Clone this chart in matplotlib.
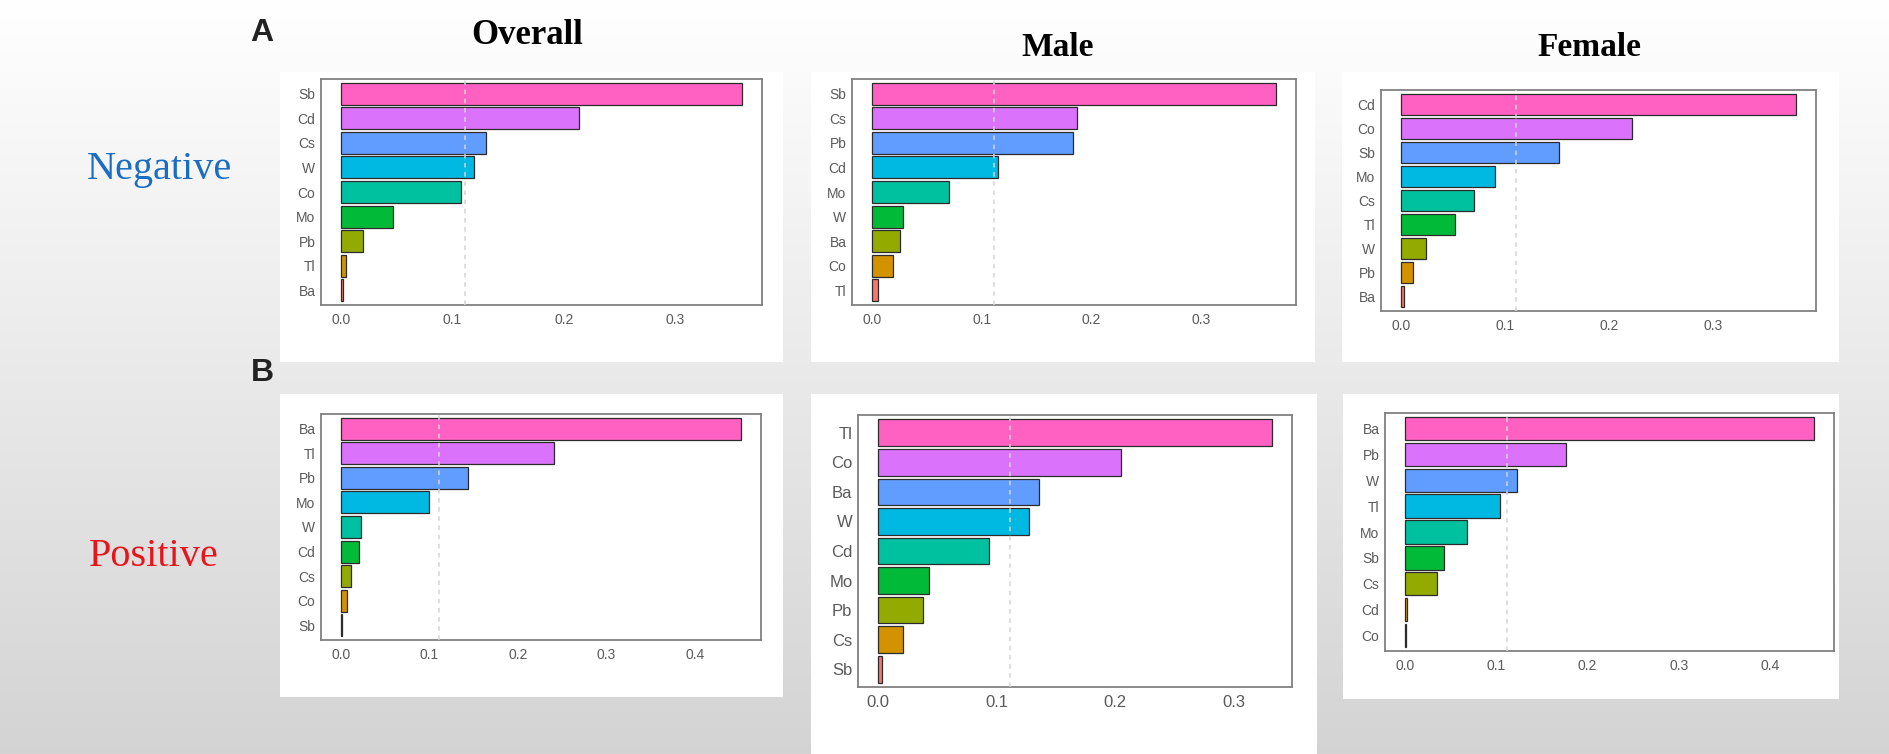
import numpy as np
import matplotlib
matplotlib.use('Agg')
import matplotlib.pyplot as plt
from matplotlib.patches import Rectangle

# weights, listed top bar first
neg_overall_labels = ["Sb", "Cd", "Cs", "W", "Co", "Mo", "Pb", "Tl", "Ba"]
neg_overall_vals = [0.360, 0.214, 0.130, 0.119, 0.108, 0.047, 0.020, 0.0045, 0.0015]

neg_male_labels = ["Sb", "Cs", "Pb", "Cd", "Mo", "W", "Ba", "Co", "Tl"]
neg_male_vals = [0.368, 0.187, 0.183, 0.115, 0.070, 0.028, 0.025, 0.0186, 0.0055]

neg_female_labels = ["Cd", "Co", "Sb", "Mo", "Cs", "Tl", "W", "Pb", "Ba"]
neg_female_vals = [0.380, 0.222, 0.152, 0.091, 0.070, 0.052, 0.024, 0.012, 0.003]

pos_overall_labels = ["Ba", "Tl", "Pb", "Mo", "W", "Cd", "Cs", "Co", "Sb"]
pos_overall_vals = [0.452, 0.241, 0.1435, 0.099, 0.0226, 0.020, 0.0117, 0.007, 0.001]

pos_male_labels = ["Tl", "Co", "Ba", "W", "Cd", "Mo", "Pb", "Cs", "Sb"]
pos_male_vals = [0.332, 0.205, 0.1355, 0.127, 0.094, 0.0435, 0.038, 0.021, 0.004]

pos_female_labels = ["Ba", "Pb", "W", "Tl", "Mo", "Sb", "Cs", "Cd", "Co"]
pos_female_vals = [0.448, 0.176, 0.122, 0.104, 0.068, 0.0426, 0.0344, 0.0015, 0.0005]

hue9 = ["#F8766D", "#D39200", "#93AA00", "#00BA38", "#00C19F",
        "#00B9E3", "#619CFF", "#DB72FB", "#FF61C3"]

W, H = 1890, 754
serif = ['Liberation Serif', 'DejaVu Serif']
sans = ['Liberation Sans', 'DejaVu Sans']


def rect(x0, y0, x1, y1):
    return [x0 / W, 1 - y1 / H, (x1 - x0) / W, (y1 - y0) / H]


def draw_panel(ax, labels, vals, fs):
    n = len(labels)
    y = np.arange(n, 0, -1)
    ax.barh(y, vals, height=0.9, color=hue9[::-1], edgecolor='#2b2b2b',
            linewidth=0.9, zorder=3)
    vmax = max(vals)
    ax.set_xlim(-0.05 * vmax, 1.05 * vmax)
    ax.set_ylim(0.4, n + 0.6)
    ax.axvline(1 / 9, color='#d4d4d4', ls=(0, (3, 3)), lw=1.1, zorder=4)
    ax.set_yticks(y)
    ax.set_yticklabels(labels)
    ax.set_xticks(np.arange(0, vmax + 1e-9, 0.1))
    ax.xaxis.set_major_formatter('{x:.1f}')
    ax.tick_params(length=0, labelsize=fs, labelcolor='#5a5a5a')
    ax.tick_params(axis='x', pad=6)
    ax.tick_params(axis='y', pad=4)
    for t in ax.get_xticklabels() + ax.get_yticklabels():
        t.set_family(sans)
    ax.set_facecolor('white')
    for s in ax.spines.values():
        s.set_color('#808080')
        s.set_linewidth(1.3)


fig = plt.figure(figsize=(18.9, 7.54), dpi=100)

# grey gradient background
bg = fig.add_axes([0, 0, 1, 1], zorder=-10)
grad = np.linspace(1.0, 0.83, 300).reshape(-1, 1)
bg.imshow(np.dstack([grad] * 3), aspect='auto', extent=[0, W, H, 0])
bg.set_xlim(0, W)
bg.set_ylim(H, 0)
bg.axis('off')

# white boxes behind each chart
for (x0, y0, x1, y1) in [(280, 72, 783, 362), (811, 72, 1315, 362),
                         (1342, 72, 1839, 362), (280, 394, 783, 697),
                         (811, 394, 1317, 754), (1343, 394, 1839, 699)]:
    bg.add_patch(Rectangle((x0, y0), x1 - x0, y1 - y0, color='white', lw=0))

panels = [
    ((321, 79, 762, 305), neg_overall_labels, neg_overall_vals, 10),
    ((852, 79, 1296, 305), neg_male_labels, neg_male_vals, 10),
    ((1381, 90, 1816, 311), neg_female_labels, neg_female_vals, 10),
    ((321, 414, 761, 640), pos_overall_labels, pos_overall_vals, 10),
    ((858, 415, 1292, 687), pos_male_labels, pos_male_vals, 12),
    ((1385, 413, 1834, 651), pos_female_labels, pos_female_vals, 10),
]
for box, labs, vals, fs in panels:
    ax = fig.add_axes(rect(*box))
    draw_panel(ax, labs, vals, fs)

fig.text(262 / W, 1 - 33 / H, "A", family=sans, weight='bold', fontsize=23,
         color='#222222', ha='center', va='center')
fig.text(262 / W, 1 - 373 / H, "B", family=sans, weight='bold', fontsize=23,
         color='#222222', ha='center', va='center')

fig.text(527 / W, 1 - 35 / H, "Overall", family=serif, weight='bold',
         fontsize=25, ha='center', va='center')
fig.text(1058 / W, 1 - 48 / H, "Male", family=serif, weight='bold',
         fontsize=24, ha='center', va='center')
fig.text(1589 / W, 1 - 48 / H, "Female", family=serif, weight='bold',
         fontsize=24, ha='center', va='center')

fig.text(160 / W, 1 - 170 / H, "Negative", family=serif, fontsize=29,
         color='#1a6dc0', ha='center', va='center')
fig.text(154 / W, 1 - 557 / H, "Positive", family=serif, fontsize=29,
         color='#e8141c', ha='center', va='center')

fig.savefig('out.png', dpi=100)
